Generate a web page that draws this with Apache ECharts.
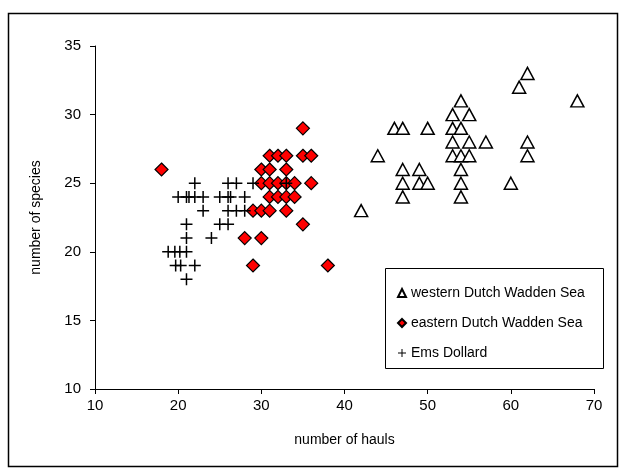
<!DOCTYPE html>
<html>
<head>
<meta charset="utf-8">
<script src="https://cdn.jsdelivr.net/npm/echarts@6/dist/echarts.min.js"></script>
<style>
html,body{margin:0;padding:0;background:#fff;}
#chart{width:625px;height:473px;}
</style>
</head>
<body>
<div id="chart"></div>
<script>
// ---- data (x = number of hauls, y = number of species) ----
const seriesNames = ["western Dutch Wadden Sea", "eastern Dutch Wadden Sea", "Ems Dollard"];
const westernPoints = [
  [54,31],[53,30],[55,30],[46,29],[47,29],[50,29],[53,29],[54,29],
  [53,28],[55,28],[57,28],[44,27],[53,27],[54,27],[55,27],
  [47,26],[49,26],[54,26],[47,25],[49,25],[50,25],[54,25],
  [47,24],[54,24],[42,23],[62,33],[61,32],[68,31],[62,28],[62,27],[60,25]
];
const easternPoints = [
  [18,26],[35,29],
  [31,27],[32,27],[33,27],[35,27],[36,27],
  [30,26],[31,26],[33,26],
  [30,25],[31,25],[32,25],[33,25],[34,25],[36,25],
  [31,24],[32,24],[33,24],[34,24],
  [29,23],[30,23],[31,23],[33,23],
  [35,22],[28,21],[30,21],[29,19],[38,19]
];
const emsPoints = [
  [22,25],[26,25],[27,25],[29,25],[33,25],
  [20,24],[21,24],[21.3,24],[22,24],[23,24],[25,24],[26,24],[26.3,24],[28,24],
  [23,23],[26,23],[27,23],[28,23],
  [21,22],[25,22],[26,22],
  [21,21],[24,21],
  [18.8,20],[19.6,20],[20.2,20],[21,20],
  [19.7,19],[20.3,19],[22,19],
  [21,18]
];
const xTicks = {min: 10, max: 70, interval: 10};
const yTicks = {min: 10, max: 35, interval: 5};
const xTitle = "number of hauls";
const yTitle = "number of species";

const FONT = "Liberation Sans, Arial, sans-serif";
const plusPath = 'path://M5.25,0 H6.75 V5.25 H12 V6.75 H6.75 V12 H5.25 V6.75 H0 V5.25 H5.25 Z';

const chart = echarts.init(document.getElementById('chart'), null, {renderer: 'canvas'});
chart.setOption({
  animation: false,
  backgroundColor: '#fff',
  textStyle: {fontFamily: FONT},
  grid: {left: 95, right: 31, top: 46, bottom: 84, containLabel: false},
  graphic: [
    {type: 'rect', shape: {x: 8.5, y: 13.5, width: 609, height: 453},
     style: {fill: 'none', stroke: '#000', lineWidth: 1.5}, silent: true, z: 0},
    {type: 'rect', shape: {x: 385.5, y: 268.5, width: 218, height: 100},
     style: {fill: '#fff', stroke: '#000', lineWidth: 1}, silent: true, z: 5}
  ],
  xAxis: {
    type: 'value', min: xTicks.min, max: xTicks.max, interval: xTicks.interval,
    name: xTitle, nameLocation: 'middle', nameGap: 44,
    nameTextStyle: {color: '#000', fontSize: 14, fontFamily: FONT},
    axisLine: {show: true, onZero: false, lineStyle: {color: '#000', width: 1}},
    axisTick: {show: true, inside: false, length: 5, lineStyle: {color: '#000'}},
    axisLabel: {color: '#000', fontSize: 15, margin: 9, fontFamily: FONT},
    splitLine: {show: false}
  },
  yAxis: {
    type: 'value', min: yTicks.min, max: yTicks.max, interval: yTicks.interval,
    name: yTitle, nameLocation: 'middle', nameGap: 52, nameRotate: 90,
    nameTextStyle: {color: '#000', fontSize: 14, fontFamily: FONT},
    axisLine: {show: true, onZero: false, lineStyle: {color: '#000', width: 1}},
    axisTick: {show: true, inside: false, length: 5, lineStyle: {color: '#000'}},
    axisLabel: {color: '#000', fontSize: 15, margin: 14, fontFamily: FONT},
    splitLine: {show: false}
  },
  legend: {
    orient: 'vertical', left: 392, top: 280, itemGap: 14,
    itemWidth: 8, itemHeight: 8, z: 10,
    textStyle: {color: '#000', fontSize: 14, fontFamily: FONT, lineHeight: 16},
    data: [
      {name: seriesNames[0], icon: 'triangle'},
      {name: seriesNames[1], icon: 'diamond'},
      {name: seriesNames[2], icon: plusPath}
    ]
  },
  series: [
    {name: seriesNames[0], type: 'scatter', data: westernPoints, symbol: 'triangle', symbolSize: [13, 12],
     itemStyle: {color: '#fff', borderColor: '#000', borderWidth: 1.5, opacity: 1}, z: 2},
    {name: seriesNames[1], type: 'scatter', data: easternPoints, symbol: 'diamond', symbolSize: 13,
     itemStyle: {color: '#ff0000', borderColor: '#000', borderWidth: 1.2, opacity: 1}, z: 2},
    {name: seriesNames[2], type: 'scatter', data: emsPoints, symbol: plusPath, symbolSize: 12,
     itemStyle: {color: '#000', opacity: 1}, z: 3}
  ]
});
</script>
</body>
</html>
